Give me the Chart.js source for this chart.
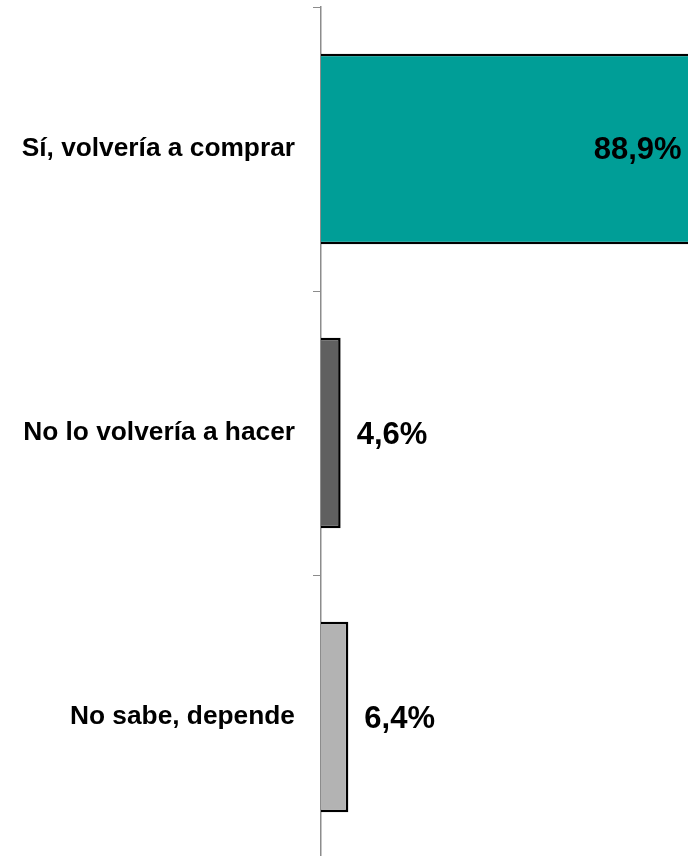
<!DOCTYPE html>
<html>
<head>
<meta charset="utf-8">
<script src="https://cdn.jsdelivr.net/npm/chart.js@4"></script>
<style>
  html, body { margin: 0; padding: 0; background: #fff; overflow: hidden; }
  #wrap { position: relative; width: 750px; height: 860px; }
</style>
</head>
<body>
<div id="wrap"><canvas id="myChart"></canvas></div>
<script>
// Answers and shares (%)
const categories = ["Sí, volvería a comprar", "No lo volvería a hacer", "No sabe, depende"];
const shares = [88.9, 4.6, 6.4];
const barColors = ["#009E97", "#606060", "#B3B3B3"];

// Value labels: inside the end for the big bar, outside for the small ones
const valueLabels = {
	id: "valueLabels",
	afterDatasetsDraw(chart) {
		const {ctx} = chart;
		const meta = chart.getDatasetMeta(0);
		ctx.save();
		ctx.font = "bold 31px 'Liberation Sans', Arial, sans-serif";
		ctx.fillStyle = "#000";
		ctx.textBaseline = "middle";
		meta.data.forEach((bar, i) => {
			const text = shares[i].toFixed(1).replace(".", ",") + "%";
			if (shares[i] > 50) {
				ctx.textAlign = "right";
				ctx.fillText(text, bar.x - 19, bar.y + 1);
			} else {
				ctx.textAlign = "left";
				ctx.fillText(text, bar.x + 16, bar.y + 2);
			}
		});
		ctx.restore();
	},
};

const context = document.querySelector("#myChart");
const answers_chart = new Chart(context, { // eslint-disable-line no-unused-vars
	type: "bar",
	data: {
		labels: categories,
		datasets: [
			{
				data: shares,
				backgroundColor: barColors,
				borderColor: "#000",
				borderWidth: 2.5,
				barPercentage: 0.67,
				categoryPercentage: 1,
			},
		],
	},
	options: {
		indexAxis: "y",
		animation: false,
		responsive: true,
		maintainAspectRatio: false,
		layout: {
			padding: {top: 7, right: 2, bottom: 1, left: 0},
		},
		scales: {
			x: {
				display: false,
				min: 0,
				max: 100,
			},
			y: {
				afterFit(scale) {
					// fixed axis width, and no extra room for the label halves
					scale.width = 321;
					scale.paddingTop = 0;
					scale.paddingBottom = 0;
				},
				grid: {
					drawOnChartArea: false,
					tickLength: 8,
					color: "#8c8c8c",
					offset: true,
				},
				border: {
					color: "#8c8c8c",
					width: 1.5,
				},
				ticks: {
					color: "#000",
					padding: 18,
					font: {
						family: "'Liberation Sans', Arial, sans-serif",
						size: 26.3,
						weight: "bold",
					},
				},
			},
		},
		plugins: {
			legend: {display: false},
			tooltip: {enabled: false},
		},
	},
	plugins: [valueLabels],
});
</script>
</body>
</html>
